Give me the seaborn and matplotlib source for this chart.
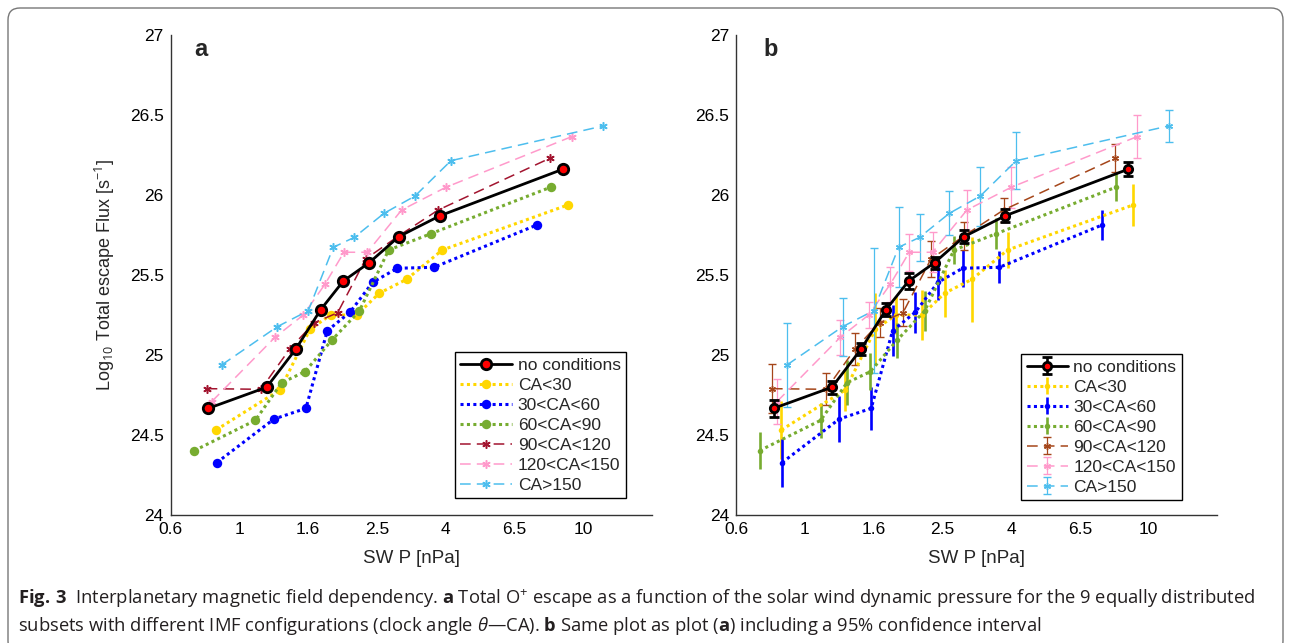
import matplotlib
matplotlib.use("Agg")
import matplotlib.pyplot as plt
import seaborn as sns
from matplotlib.patches import FancyBboxPatch

sns.set_style("white")
plt.rcParams['font.family'] = ['Liberation Sans', 'DejaVu Sans']
plt.rcParams['mathtext.fontset'] = 'custom'
plt.rcParams['mathtext.rm'] = 'Open Sans'
plt.rcParams['mathtext.bf'] = 'Open Sans:bold'
plt.rcParams['mathtext.it'] = 'Open Sans:italic'

# data: SW dynamic pressure [nPa], log10 flux, 95% half-width
names = ["no conditions", "CA<30", "30<CA<60", "60<CA<90", "90<CA<120", "120<CA<150", "CA>150"]

p_none = [0.776, 1.156, 1.412, 1.672, 1.952, 2.331, 2.850, 3.78, 8.74]
f_none = [24.668, 24.80, 25.039, 25.284, 25.463, 25.578, 25.740, 25.871, 26.161]
e_none = [0.055, 0.04, 0.04, 0.04, 0.05, 0.037, 0.04, 0.042, 0.044]

p_ca30 = [0.818, 1.266, 1.555, 1.79, 2.139, 2.496, 3.01, 3.84, 9.05]
f_ca30 = [24.533, 24.783, 25.162, 25.251, 25.251, 25.387, 25.474, 25.657, 25.938]
e_ca30 = [0.18, 0.13, 0.225, 0.12, 0.156, 0.148, 0.265, 0.11, 0.133]

p_ca60 = [0.822, 1.215, 1.512, 1.75, 2.043, 2.386, 2.823, 3.63, 7.32]
f_ca60 = [24.329, 24.601, 24.668, 25.153, 25.268, 25.455, 25.543, 25.549, 25.813]
e_ca60 = [0.15, 0.144, 0.135, 0.16, 0.128, 0.11, 0.115, 0.10, 0.096]

p_ca90 = [0.705, 1.07, 1.281, 1.502, 1.803, 2.178, 2.662, 3.554, 8.05]
f_ca90 = [24.404, 24.593, 24.828, 24.897, 25.093, 25.276, 25.657, 25.759, 26.049]
e_ca90 = [0.117, 0.108, 0.14, 0.115, 0.11, 0.125, 0.088, 0.097, 0.088]

p_ca120 = [0.767, 1.112, 1.356, 1.601, 1.878, 2.275, 2.85, 3.736, 8.01]
f_ca120 = [24.791, 24.787, 25.041, 25.203, 25.265, 25.601, 25.745, 25.907, 26.23]
e_ca120 = [0.154, 0.10, 0.10, 0.09, 0.083, 0.11, 0.09, 0.075, 0.088]

p_ca150 = [0.794, 1.224, 1.485, 1.722, 1.961, 2.30, 2.909, 3.938, 9.30]
f_ca150 = [24.71, 25.112, 25.251, 25.443, 25.643, 25.643, 25.907, 26.049, 26.365]
e_ca150 = [0.142, 0.11, 0.08, 0.11, 0.115, 0.125, 0.123, 0.127, 0.133]

p_ca180 = [0.850, 1.243, 1.537, 1.823, 2.104, 2.578, 3.186, 4.075, 11.54]
f_ca180 = [24.939, 25.178, 25.278, 25.674, 25.736, 25.886, 25.994, 26.215, 26.432]
e_ca180 = [0.26, 0.18, 0.39, 0.25, 0.148, 0.137, 0.184, 0.177, 0.1]

xticks = [0.6, 0.96, 1.536, 2.4576, 3.93216, 6.291456, 10.0663296, 16.10612736]
xticklabels = ["0.6", "1", "1.6", "2.5", "4", "6.5", "10", ""]
yticks = [24, 24.5, 25, 25.5, 26, 26.5, 27]
yticklabels = ["24", "24.5", "25", "25.5", "26", "26.5", "27"]

pressures = [p_none, p_ca30, p_ca60, p_ca90, p_ca120, p_ca150, p_ca180]
fluxes = [f_none, f_ca30, f_ca60, f_ca90, f_ca120, f_ca150, f_ca180]
errors = [e_none, e_ca30, e_ca60, e_ca90, e_ca120, e_ca150, e_ca180]

cols_a = ["black", "#FFD700", "#0000FF", "#77AC30", "#A2142F", "#FF9ACB", "#4DBEEE"]
cols_b = ["black", "#FFD700", "#0000FF", "#77AC30", "#A5461A", "#FF9ACB", "#4DBEEE"]
dotted = (0, (1, 1.1))
dashed = (0, (7, 4))
styles = ["-", dotted, dotted, dotted, dashed, dashed, dashed]
widths = [2.0, 2.2, 2.2, 2.2, 1.1, 1.1, 1.1]
star = (6, 2, 0)
marks = ["o", "o", "o", "o", star, star, star]

fig = plt.figure(figsize=(12.91, 6.43), dpi=100)
ax_a = fig.add_axes([170.7 / 1291, 1 - 515.3 / 643, 481.3 / 1291, 480.3 / 643])
ax_b = fig.add_axes([736 / 1291, 1 - 515.3 / 643, 481.3 / 1291, 480.3 / 643])

# panel a: lines only
order = [1, 2, 3, 4, 5, 6, 0]
for i in order:
    if i == 0:
        kw = dict(marker="o", markersize=7.5, markerfacecolor="red",
                  markeredgecolor="black", markeredgewidth=2)
    elif marks[i] == "o":
        kw = dict(marker="o", markersize=6.8, markerfacecolor=cols_a[i],
                  markeredgecolor=cols_a[i], markeredgewidth=0)
    else:
        kw = dict(marker=star, markersize=6, markerfacecolor=cols_a[i],
                  markeredgecolor=cols_a[i], markeredgewidth=1.1)
    sns.lineplot(x=pressures[i], y=fluxes[i], ax=ax_a, color=cols_a[i],
                 linestyle=styles[i], linewidth=widths[i], sort=False,
                 estimator=None, label=names[i], zorder=5 if i == 0 else 3, **kw)

# panel b: with 95% confidence bars
handles_b = {}
for i in order:
    if i == 0:
        kw = dict(marker="o", markersize=6, markerfacecolor="red",
                  markeredgecolor="black", markeredgewidth=2,
                  elinewidth=1.9, capsize=3.5, capthick=1.9)
    elif marks[i] == "o":
        kw = dict(marker="o", markersize=4, markerfacecolor=cols_b[i],
                  markeredgecolor=cols_b[i], markeredgewidth=0,
                  elinewidth=1.9, capsize=3.5, capthick=1.9)
    else:
        kw = dict(marker=star, markersize=5, markerfacecolor=cols_b[i],
                  markeredgecolor=cols_b[i], markeredgewidth=1.0,
                  elinewidth=0.9, capsize=3.2, capthick=0.9)
    h = ax_b.errorbar(pressures[i], fluxes[i], yerr=errors[i], color=cols_b[i],
                      ecolor=cols_b[i], linestyle=styles[i], linewidth=widths[i],
                      label=names[i], zorder=5 if i == 0 else 3, **kw)
    handles_b[i] = h

for ax, lab in [(ax_a, "a"), (ax_b, "b")]:
    ax.set_xscale("log")
    ax.set_xlim(0.6, 16.10612736)
    ax.set_ylim(24, 27)
    ax.set_xticks(xticks)
    ax.set_xticklabels(xticklabels)
    ax.minorticks_off()
    ax.set_yticks(yticks)
    ax.set_yticklabels(yticklabels)
    ax.tick_params(direction="in", length=5, width=1, color="#333333",
                   labelsize=12.5, labelcolor="black", pad=5)
    for s in ["top", "right"]:
        ax.spines[s].set_visible(False)
    for s in ["left", "bottom"]:
        ax.spines[s].set_color("#333333")
        ax.spines[s].set_linewidth(1)
    ax.set_xlabel("SW P [nPa]", fontsize=13.5)
    ax.xaxis.set_label_coords(0.5, -0.072)
    ax.text(0.063 if lab == "a" else 0.073, 0.969, lab, transform=ax.transAxes,
            fontsize=17, fontweight="bold", ha="center", va="center")
    ax.set_facecolor("none")

ax_a.set_ylabel(r"Log$_{10}$ Total escape Flux [s$^{-1}$]", fontsize=13)
ax_a.yaxis.set_label_coords(-0.112, 0.5)

hl, ll = ax_a.get_legend_handles_labels()
lut = dict(zip(ll, hl))
leg_a = ax_a.legend([lut[n] for n in names], names, loc="lower left",
                    bbox_to_anchor=(0.591, 0.036), fontsize=12.5, frameon=True,
                    fancybox=False, edgecolor="black", framealpha=1,
                    handlelength=3.0, labelspacing=0.28, borderpad=0.3,
                    handletextpad=0.3, borderaxespad=0)
leg_a.get_frame().set_linewidth(1)

leg_b = ax_b.legend([handles_b[i] for i in range(7)], names, loc="lower left",
                    bbox_to_anchor=(0.593, 0.032), fontsize=12.5, frameon=True,
                    fancybox=False, edgecolor="black", framealpha=1,
                    handlelength=2.4, labelspacing=0.28, borderpad=0.3,
                    handletextpad=0.3, borderaxespad=0)
leg_b.get_frame().set_linewidth(1)

# outer rounded frame
frame = FancyBboxPatch((0.08, -0.1), 12.75, 6.45,
                       boxstyle="round,pad=0,rounding_size=0.12",
                       transform=fig.dpi_scale_trans, fill=False,
                       edgecolor="#777777", linewidth=1)
fig.patches.append(frame)

cap1 = (r"$\mathbf{Fig.\,3}$  Interplanetary magnetic field dependency. $\mathbf{a}$ Total O$^{+}$ "
        r"escape as a function of the solar wind dynamic pressure for the 9 equally distributed")
cap2 = (r"subsets with different IMF configurations (clock angle $\theta$—CA). $\mathbf{b}$ Same plot "
        r"as plot ($\mathbf{a}$) including a 95% confidence interval")
fig.text(18 / 1291, 1 - 599 / 643, cap1, fontsize=13.2, color="#231f20",
         family="Open Sans", va="center", ha="left")
fig.text(18 / 1291, 1 - 626 / 643, cap2, fontsize=13.2, color="#231f20",
         family="Open Sans", va="center", ha="left")

fig.savefig("out.png", dpi=100)
